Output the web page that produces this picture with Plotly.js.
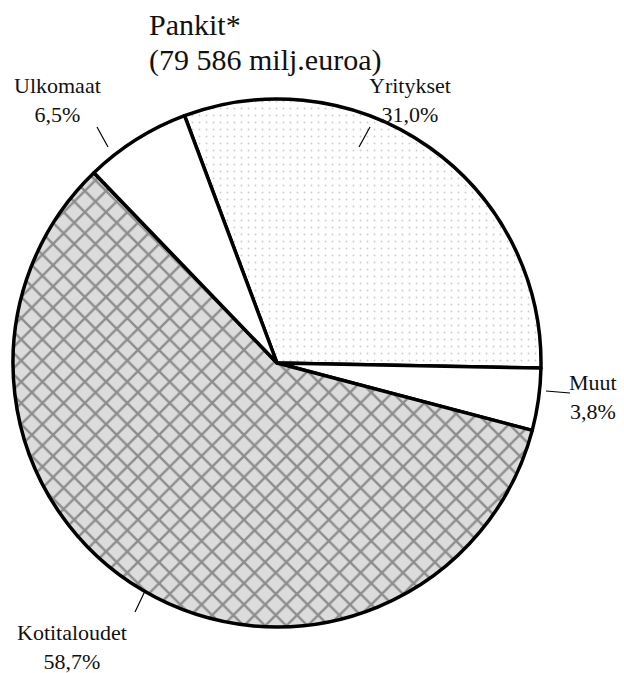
<!DOCTYPE html>
<html>
<head>
<meta charset="utf-8">
<script src="https://cdn.plot.ly/plotly-3.0.1.min.js"></script>
<style>
  html, body { margin: 0; padding: 0; background: #fff; }
  #chart { width: 624px; height: 673px; }
</style>
</head>
<body>
<div id="chart"></div>
<script>
// data
var labels = ['Yritykset', 'Muut', 'Kotitaloudet', 'Ulkomaat'];
var shares = [31.0, 3.8, 58.7, 6.5];
var shareText = ['31,0%', '3,8%', '58,7%', '6,5%'];
var title1 = 'Pankit*';
var title2 = '(79 586 milj.euroa)';

var W = 624, H = 673;
var serif = 'Liberation Serif';

// pixel -> paper helpers (no margins)
function fx(p) { return p / W; }
function fy(p) { return 1 - p / H; }

// pie placement
var cx = 277, cy = 363, R = 264;

var pie = {
    type: 'pie',
    labels: labels,
    values: shares,
    sort: false,
    direction: 'clockwise',
    rotation: -20.5,
    textinfo: 'none',
    hoverinfo: 'label+percent',
    domain: {x: [fx(cx - R), fx(cx + R)], y: [fy(cy + R), fy(cy - R)]},
    marker: {
        colors: ['#ffffff', '#ffffff', '#dcdcdc', '#ffffff'],
        line: {color: '#000', width: 3.5},
        pattern: {
            shape: ['.', '', 'x', ''],
            fgcolor: ['#9a9a9a', '#000', '#404040', '#000'],
            bgcolor: ['#ffffff', '#ffffff', '#dcdcdc', '#ffffff'],
            size: [7, 8, 15, 8],
            solidity: [0.06, 0.2, 0.3, 0.2],
            fillmode: 'overlay'
        }
    }
};

// label spots and leader lines (pixels)
var labelPos = [[410, 100], [593, 397], [72, 647], [57, 100]];
var leaders = [
    [[370, 127], [359, 147]],
    [[546, 391], [570, 393]],
    [[145, 591], [135, 612]],
    [[97, 127], [108, 147]]
];

var annotations = [];
var shapes = [];
for (var i = 0; i < labels.length; i++) {
    annotations.push({
        xref: 'paper', yref: 'paper',
        x: fx(labelPos[i][0]), y: fy(labelPos[i][1]),
        xanchor: 'center', yanchor: 'middle',
        text: labels[i] + '<br>' + shareText[i],
        showarrow: false,
        font: {family: serif, size: 22, color: '#111'},
        align: 'center'
    });
    shapes.push({
        type: 'line', xref: 'paper', yref: 'paper',
        x0: fx(leaders[i][0][0]), y0: fy(leaders[i][0][1]),
        x1: fx(leaders[i][1][0]), y1: fy(leaders[i][1][1]),
        line: {color: '#000', width: 1.2}
    });
}

// two-line title, set as separate lines to keep the tight spacing
[[title1, 25], [title2, 60]].forEach(function (t) {
    annotations.push({
        xref: 'paper', yref: 'paper',
        x: fx(147), y: fy(t[1]),
        xanchor: 'left', yanchor: 'middle',
        text: t[0],
        showarrow: false,
        font: {family: serif, size: 30, color: '#111'}
    });
});

var layout = {
    width: W,
    height: H,
    margin: {l: 0, r: 0, t: 0, b: 0},
    paper_bgcolor: '#fff',
    showlegend: false,
    annotations: annotations,
    shapes: shapes
};

Plotly.newPlot('chart', [pie], layout, {displayModeBar: false});
</script>
</body>
</html>
